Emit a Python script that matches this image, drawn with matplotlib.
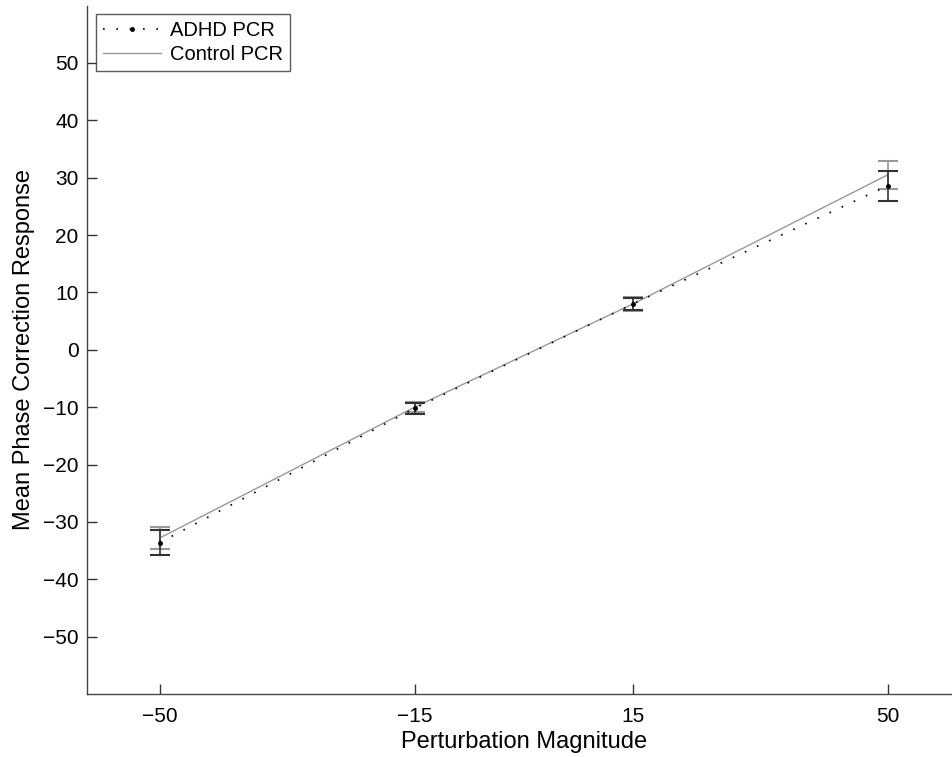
import matplotlib
matplotlib.use("Agg")
import matplotlib.pyplot as plt
from matplotlib.lines import Line2D

plt.rcParams['font.family'] = ['Liberation Sans', 'DejaVu Sans']

perturbation = [-50, -15, 15, 50]
adhd_mean = [-33.6, -10.2, 8.0, 28.6]
adhd_err = [2.2, 1.0, 1.1, 2.65]
control_mean = [-32.8, -10.0, 8.0, 30.5]
control_err = [1.9, 0.9, 1.2, 2.4]
xtick_labels = ['\u221250', '\u221215', '15', '50']
ytick_values = [-50, -40, -30, -20, -10, 0, 10, 20, 30, 40, 50]

fig = plt.figure(figsize=(9.52, 7.57), dpi=100)
ax = fig.add_axes([0.0914, 0.0832, 1.009 - 0.0914, 0.9094])

dots = (0, (1, 7))
ax.errorbar(perturbation, control_mean, yerr=control_err, color='#999999',
            lw=1, capsize=7, capthick=1.5, elinewidth=1.2, label='Control PCR', zorder=2)
ax.errorbar(perturbation, adhd_mean, yerr=adhd_err, color='black', fmt='.',
            ls=dots, lw=1.2, ms=5, capsize=7, capthick=1.5, elinewidth=1.2,
            ecolor='#333333', label='ADHD PCR', zorder=3)

ax.set_xlim(-60, 60)
ax.set_ylim(-60, 60)
ax.set_xticks(perturbation)
ax.set_xticklabels(xtick_labels)
ax.set_yticks(ytick_values)
ax.set_yticklabels([('\u2212' + str(-v)) if v < 0 else str(v) for v in ytick_values])
ax.tick_params(direction='in', length=7, width=1, labelsize=15, colors='#333333',
               labelcolor='black')
ax.tick_params(axis='x', pad=9)
ax.tick_params(axis='y', pad=6)
for s in ['top', 'right']:
    ax.spines[s].set_visible(False)
for s in ['left', 'bottom']:
    ax.spines[s].set_color('#444444')
    ax.spines[s].set_linewidth(1)

ax.set_xlabel('Perturbation Magnitude', fontsize=17, labelpad=4)
ax.set_ylabel('Mean Phase Correction Response', fontsize=17, labelpad=6)

h_adhd = Line2D([], [], color='black', ls=dots, lw=1.2, marker='.', ms=5, markevery=[1])
h_ctrl = Line2D([], [], color='#999999', lw=1)
leg = ax.legend([h_adhd, h_ctrl], ['ADHD PCR', 'Control PCR'], loc='upper left',
                fontsize=14.5, frameon=True, fancybox=False, edgecolor='#333333',
                borderaxespad=0, handlelength=2.9, handletextpad=0.45,
                borderpad=0.35, labelspacing=0.25, bbox_to_anchor=(0.01, 0.988))
leg.get_frame().set_linewidth(1)

fig.savefig('out.png', dpi=100)
